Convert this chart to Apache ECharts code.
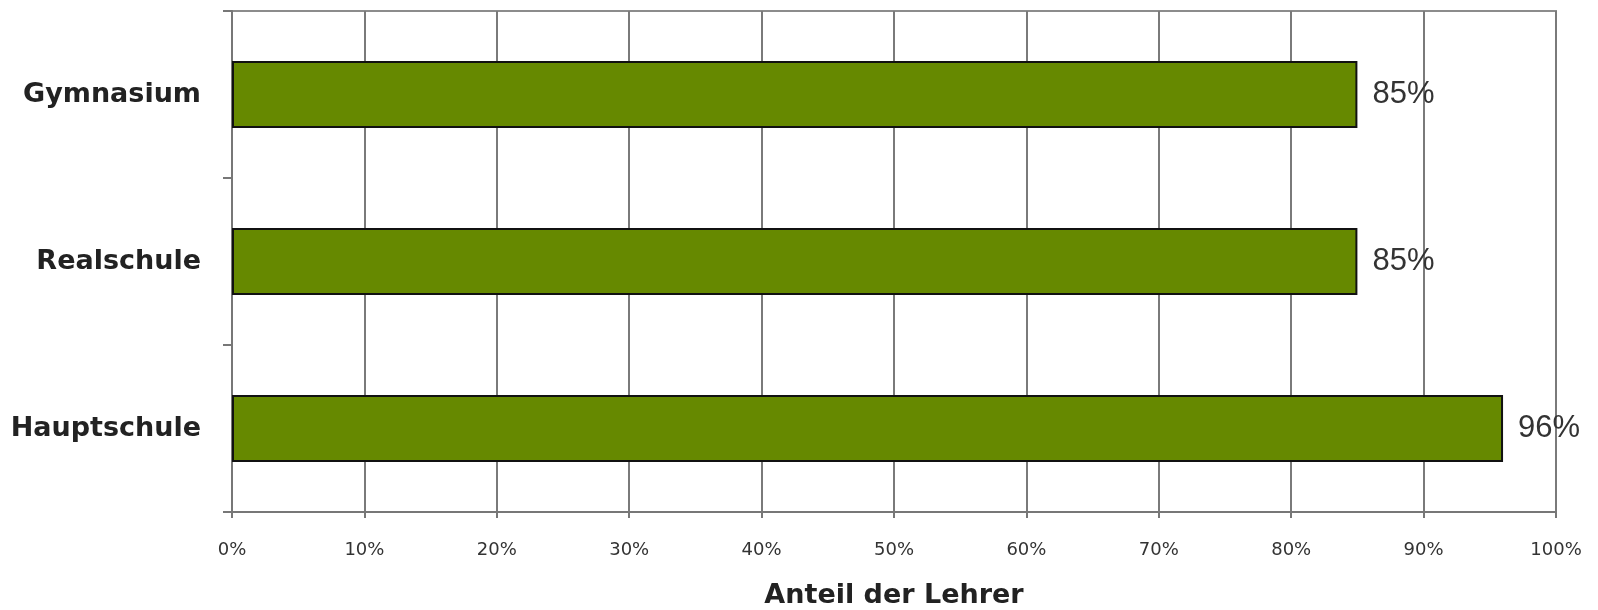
<!DOCTYPE html>
<html>
<head>
<meta charset="utf-8">
<script src="https://cdn.jsdelivr.net/npm/echarts@6/dist/echarts.min.js"></script>
<style>
  html, body { margin: 0; padding: 0; background: #fff; }
  #chart { width: 1598px; height: 610px; }
</style>
</head>
<body>
<div id="chart"></div>
<script>
// Schulformen (von unten nach oben)
var schulformen = ['Hauptschule', 'Realschule', 'Gymnasium'];
var anteile = [96, 85, 85];
var tickWerte = [0, 10, 20, 30, 40, 50, 60, 70, 80, 90, 100];

var chartDom = document.getElementById('chart');
var myChart = echarts.init(chartDom);
var option;

option = {
    animation: false,
    grid: {
        left: 232,
        right: 42,
        top: 11,
        bottom: 98,
        containLabel: false,
        outerBoundsMode: 'none',
        show: true,
        borderColor: '#8c8c8c',
        borderWidth: 2
    },
    xAxis: {
        type: 'value',
        min: tickWerte[0],
        max: tickWerte[tickWerte.length - 1],
        interval: 10,
        name: 'Anteil der Lehrer',
        nameLocation: 'middle',
        nameGap: 70,
        nameTextStyle: {
            fontFamily: 'DejaVu Sans',
            fontSize: 27,
            fontWeight: 'bold',
            color: '#222'
        },
        axisLine: { show: true, lineStyle: { color: '#777', width: 2 } },
        axisTick: { show: true, length: 6, lineStyle: { color: '#777', width: 2 } },
        axisLabel: {
            margin: 29,
            fontFamily: 'DejaVu Sans',
            fontSize: 18,
            color: '#333',
            formatter: function (v) { return v + '%'; }
        },
        splitLine: { show: true, lineStyle: { color: '#7a7a7a', width: 2 } }
    },
    yAxis: {
        type: 'category',
        data: schulformen,
        axisLine: { show: true, lineStyle: { color: '#777', width: 2 } },
        axisTick: { show: true, length: 9, lineStyle: { color: '#777', width: 2 } },
        axisLabel: {
            margin: 31,
            fontFamily: 'DejaVu Sans',
            fontSize: 27,
            fontWeight: 'bold',
            color: '#222'
        },
        splitLine: { show: false }
    },
    series: [
        {
            type: 'bar',
            data: anteile,
            barWidth: '40%',
            itemStyle: {
                color: '#668900',
                borderColor: '#111',
                borderWidth: 2
            },
            label: {
                show: true,
                position: 'right',
                distance: 15,
                fontFamily: 'Liberation Sans',
                fontSize: 31,
                color: '#333',
                formatter: function (p) { return p.value + '%'; }
            }
        }
    ]
};

option && myChart.setOption(option);
</script>
</body>
</html>
